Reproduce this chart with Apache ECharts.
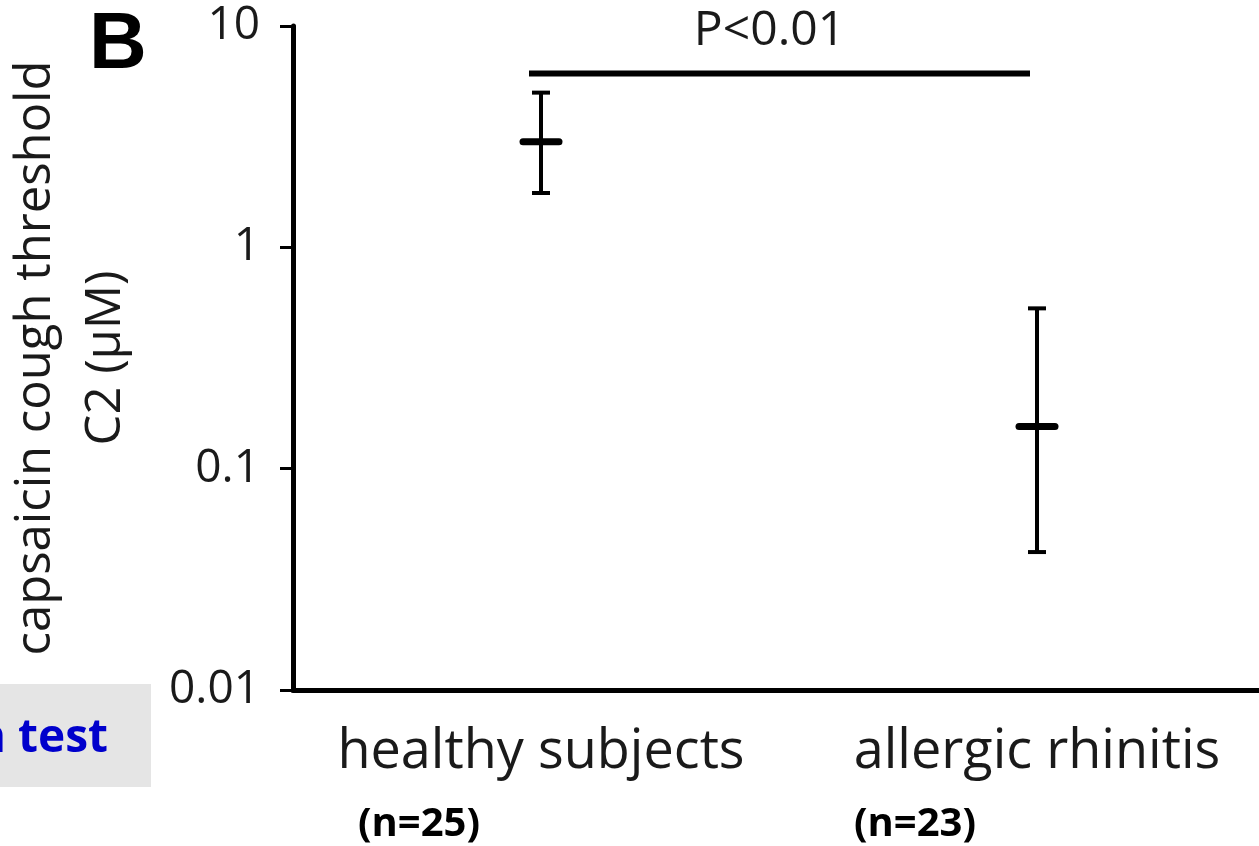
<!DOCTYPE html>
<html>
<head>
<meta charset="utf-8">
<script src="https://cdn.jsdelivr.net/npm/echarts@6/dist/echarts.min.js"></script>
<style>
  html, body { margin: 0; padding: 0; background: #ffffff; }
  #chart { width: 1259px; height: 846px; }
</style>
</head>
<body>
<div id="chart"></div>
<script>
// Capsaicin cough threshold C2 per group (geometric mean with 95% CI)
const groups = ['healthy subjects', 'allergic rhinitis'];
const groupSizes = ['(n=25)', '(n=23)'];
const meanC2 = [3.0, 0.155];
const lowerC2 = [1.76, 0.042];
const upperC2 = [5.0, 0.53];

// Log axis ticks
const yTicks = [0.01, 0.1, 1, 10];
const yTickLabels = ['0.01', '0.1', '1', '10'];

// Significance bracket between the two groups
const pLabel = 'P<0.01';
const pBarLevel = 6.1;

const panelLetter = 'B';
const testNote = 'n test';

const FONT = '"Open Sans", "Liberation Sans", sans-serif';

const chart = echarts.init(document.getElementById('chart'), null, { renderer: 'canvas' });

function tickLabel(v) {
  let best = 0, bestD = Infinity;
  yTicks.forEach((t, i) => {
    const d = Math.abs(Math.log10(v) - Math.log10(t));
    if (d < bestD) { bestD = d; best = i; }
  });
  return bestD < 1e-6 ? yTickLabels[best] : '';
}

function renderErrorBar(params, api) {
  const idx = api.value(0);
  const pMean = api.coord([idx, api.value(2)]);
  const pLow = api.coord([idx, api.value(1)]);
  const pHigh = api.coord([idx, api.value(3)]);
  const x = pMean[0];
  const stroke = { stroke: '#000', lineWidth: 4, lineCap: 'butt' };
  return {
    type: 'group',
    children: [
      { type: 'line', shape: { x1: x, y1: pHigh[1], x2: x, y2: pLow[1] }, style: stroke },
      { type: 'line', shape: { x1: x - 9, y1: pHigh[1], x2: x + 9, y2: pHigh[1] }, style: stroke },
      { type: 'line', shape: { x1: x - 9, y1: pLow[1], x2: x + 9, y2: pLow[1] }, style: stroke },
      { type: 'line', shape: { x1: x - 18, y1: pMean[1], x2: x + 18, y2: pMean[1] },
        style: { stroke: '#000', lineWidth: 7, lineCap: 'round' } }
    ]
  };
}

function renderBracket(params, api) {
  const level = api.value(2);
  const pA = api.coord([api.value(0), level]);
  const pB = api.coord([api.value(1), level]);
  const x1 = pA[0] - 12;
  const x2 = pB[0] - 7;
  return {
    type: 'group',
    children: [
      { type: 'line', shape: { x1: x1, y1: pA[1], x2: x2, y2: pA[1] },
        style: { stroke: '#000', lineWidth: 6 } },
      { type: 'text', x: (x1 + x2) / 2 - 10, y: pA[1] - 42,
        style: { text: pLabel, font: '48px ' + FONT, fill: '#1a1a1a',
                 align: 'center', verticalAlign: 'middle' } }
    ]
  };
}

chart.setOption({
  backgroundColor: '#ffffff',
  animation: false,
  grid: { left: 293, width: 992, top: 26, bottom: 156, containLabel: false, outerBoundsMode: 'none' },
  xAxis: {
    type: 'category',
    data: groups,
    boundaryGap: true,
    axisLine: { show: true, onZero: false, lineStyle: { color: '#000', width: 5 } },
    axisTick: { show: false },
    axisLabel: { color: '#1a1a1a', fontFamily: FONT, fontSize: 54, margin: 36, interval: 0 },
    splitLine: { show: false }
  },
  yAxis: {
    type: 'log',
    logBase: 10,
    min: 0.01,
    max: 10,
    interval: 1,
    axisLine: { show: true, lineStyle: { color: '#000', width: 5 } },
    axisTick: { show: true, length: 13, lineStyle: { color: '#000', width: 3 } },
    axisLabel: { color: '#1a1a1a', fontFamily: FONT, fontSize: 46, margin: 33,
                 formatter: tickLabel },
    minorTick: { show: false },
    splitLine: { show: false },
    name: 'capsaicin cough threshold\nC2 (μM)',
    nameLocation: 'middle',
    nameRotate: 90,
    nameGap: 152,
    nameTextStyle: { color: '#1a1a1a', fontFamily: FONT, fontSize: 49, lineHeight: 70, align: 'center' }
  },
  series: [
    {
      type: 'custom',
      name: 'C2',
      renderItem: renderErrorBar,
      encode: { x: 0, y: [1, 2, 3] },
      data: groups.map((g, i) => [i, lowerC2[i], meanC2[i], upperC2[i]]),
      clip: false,
      z: 3
    },
    {
      type: 'custom',
      name: 'significance',
      renderItem: renderBracket,
      encode: { x: [0, 1], y: 2 },
      data: [[0, 1, pBarLevel]],
      clip: false,
      z: 3
    }
  ]
});

// Group sizes under the category labels, panel letter and the side note box
const nLabels = groupSizes.map((s, i) => {
  const px = chart.convertToPixel({ xAxisIndex: 0 }, i);
  return {
    type: 'text',
    x: px - 122,
    y: 825,
    style: { text: s, font: 'bold 40px ' + FONT, fill: '#000', align: 'center', verticalAlign: 'middle' }
  };
});

chart.setOption({
  graphic: [
    ...nLabels,
    {
      type: 'text', x: 89, y: 46,
      style: { text: panelLetter, font: 'bold 80px "Liberation Sans", Arial, sans-serif', fill: '#000',
               align: 'left', verticalAlign: 'middle' }
    },
    {
      type: 'rect', shape: { x: 0, y: 684, width: 151, height: 103 },
      style: { fill: '#e5e5e5' }, z: -1
    },
    {
      type: 'text', x: 108, y: 739,
      style: { text: testNote, font: 'bold 46px ' + FONT, fill: '#0000cc', align: 'right', verticalAlign: 'middle' }
    }
  ]
});
</script>
</body>
</html>
